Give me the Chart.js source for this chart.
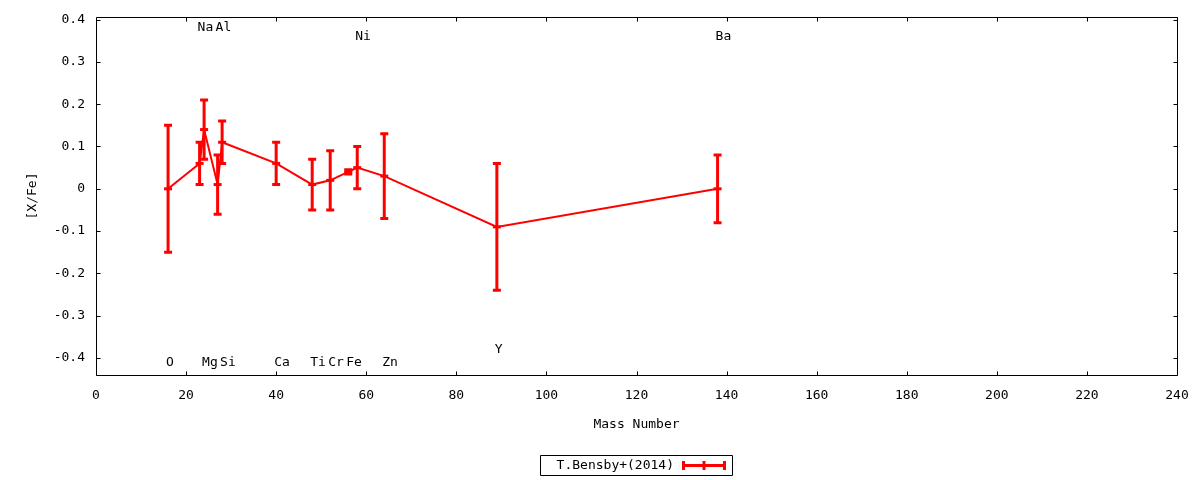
<!DOCTYPE html>
<html>
<head>
<meta charset="utf-8">
<script src="https://cdn.jsdelivr.net/npm/chart.js@4/dist/chart.umd.min.js"></script>
<style>
html,body{margin:0;padding:0;background:#fff;}
canvas{display:block;}
</style>
</head>
<body>
<canvas id="c" width="1200" height="480"></canvas>
<script>
// ---- data ----
const elements = ["O", "Na", "Mg", "Al", "Si", "Ca", "Ti", "Cr", "Fe", "Ni", "Zn", "Y", "Ba"];
const massNumber = [16, 23, 24, 27, 28, 40, 48, 52, 56, 58, 64, 89, 138];
const xFe = [0.00, 0.06, 0.14, 0.01, 0.11, 0.06, 0.01, 0.02, 0.04, 0.05, 0.03, -0.09, 0.00];
const xFeErr = [0.15, 0.05, 0.07, 0.07, 0.05, 0.05, 0.06, 0.07, 0.005, 0.05, 0.10, 0.15, 0.08];
const labelY = [-0.41, 0.38, -0.41, 0.38, -0.41, -0.41, -0.41, -0.41, -0.41, 0.36, -0.41, -0.38, 0.36];
const xTickValues = [0, 20, 40, 60, 80, 100, 120, 140, 160, 180, 200, 220, 240];
const yTickValues = [-0.4, -0.3, -0.2, -0.1, 0, 0.1, 0.2, 0.3, 0.4];
const seriesName = "T.Bensby+(2014)";
const xTitle = "Mass Number";
const yTitle = "[X/Fe]";

const RED = "#ff0000";
const FONT = "'DejaVu Sans Mono', monospace";

Chart.defaults.font.family = FONT;
Chart.defaults.font.size = 13;
Chart.defaults.color = "#000";

const points = massNumber.map((m, i) => ({x: m, y: xFe[i]}));

const gnuplotPlugin = {
  id: "gnuplot",
  afterDatasetsDraw(chart) {
    const ctx = chart.ctx;
    const xs = chart.scales.x, ys = chart.scales.y;
    ctx.save();
    // error bars
    ctx.strokeStyle = RED;
    ctx.lineWidth = 3;
    ctx.lineCap = "butt";
    for (let i = 0; i < massNumber.length; i++) {
      const px = xs.getPixelForValue(massNumber[i]);
      const yt = ys.getPixelForValue(xFe[i] + xFeErr[i]);
      const yb = ys.getPixelForValue(xFe[i] - xFeErr[i]);
      ctx.beginPath();
      ctx.moveTo(px, yt); ctx.lineTo(px, yb);
      ctx.moveTo(px - 4, yt); ctx.lineTo(px + 4, yt);
      ctx.moveTo(px - 4, yb); ctx.lineTo(px + 4, yb);
      ctx.stroke();
    }
    // element labels
    ctx.fillStyle = "#000";
    ctx.font = "13px " + FONT;
    ctx.textAlign = "left";
    ctx.textBaseline = "middle";
    for (let i = 0; i < elements.length; i++) {
      const px = xs.getPixelForValue(massNumber[i]);
      const py = ys.getPixelForValue(labelY[i]);
      ctx.fillText(elements[i], px - 2, py);
    }
    ctx.restore();
  },
  afterDraw(chart) {
    const ctx = chart.ctx;
    const a = chart.chartArea;
    const xs = chart.scales.x, ys = chart.scales.y;
    ctx.save();
    ctx.strokeStyle = "#000";
    ctx.lineWidth = 1;
    const L = Math.round(a.left) + 0.5, R = Math.round(a.right) + 0.5;
    const T = Math.round(a.top) + 0.5, B = Math.round(a.bottom) + 0.5;
    ctx.beginPath();
    ctx.rect(L, T, R - L, B - T);
    // inward ticks
    xTickValues.forEach(v => {
      const px = Math.round(xs.getPixelForValue(v)) + 0.5;
      ctx.moveTo(px, B); ctx.lineTo(px, B - 4);
      ctx.moveTo(px, T); ctx.lineTo(px, T + 4);
    });
    yTickValues.forEach(v => {
      const py = Math.round(ys.getPixelForValue(v)) + 0.5;
      ctx.moveTo(L, py); ctx.lineTo(L + 4, py);
      ctx.moveTo(R, py); ctx.lineTo(R - 4, py);
    });
    ctx.stroke();

    // legend
    const bx = 540.5, by = 455.5, bw = 192, bh = 20;
    ctx.beginPath();
    ctx.rect(bx, by, bw, bh);
    ctx.stroke();
    ctx.fillStyle = "#000";
    ctx.font = "13px " + FONT;
    ctx.textAlign = "right";
    ctx.textBaseline = "middle";
    ctx.fillText(seriesName, 674, by + bh / 2 + 0.5);
    const ly = by + bh / 2;
    ctx.strokeStyle = RED;
    ctx.lineWidth = 3;
    ctx.beginPath();
    ctx.moveTo(682, ly); ctx.lineTo(726, ly);
    ctx.moveTo(683.5, ly - 4.5); ctx.lineTo(683.5, ly + 4.5);
    ctx.moveTo(724.5, ly - 4.5); ctx.lineTo(724.5, ly + 4.5);
    ctx.moveTo(704, ly - 4.5); ctx.lineTo(704, ly + 4.5);
    ctx.stroke();
    ctx.restore();
  }
};

new Chart(document.getElementById("c"), {
  type: "line",
  data: {
    datasets: [{
      label: seriesName,
      data: points,
      borderColor: RED,
      backgroundColor: RED,
      borderWidth: 2,
      pointStyle: "line",
      pointRadius: 4,
      pointBorderWidth: 3,
      pointBorderColor: RED,
      pointHoverRadius: 4,
      tension: 0,
      fill: false
    }]
  },
  options: {
    responsive: false,
    devicePixelRatio: 1,
    animation: false,
    events: [],
    layout: {padding: {top: 17, right: 23, bottom: 48, left: 0}},
    plugins: {legend: {display: false}, tooltip: {enabled: false}},
    scales: {
      x: {
        type: "linear",
        min: 0, max: 240,
        grid: {display: false, drawTicks: false},
        border: {display: false},
        afterBuildTicks(scale) { scale.ticks = xTickValues.map(v => ({value: v})); },
        afterFit(scale) { scale.height = 57; scale.paddingLeft = 0; scale.paddingRight = 0; },
        ticks: {padding: 13, maxRotation: 0, autoSkip: false, callback: v => String(v)},
        title: {display: true, text: xTitle, padding: {top: 0, bottom: 0}}
      },
      y: {
        type: "linear",
        min: -0.44, max: 0.406,
        grid: {display: false, drawTicks: false},
        border: {display: false},
        afterBuildTicks(scale) { scale.ticks = yTickValues.map(v => ({value: v})); },
        afterFit(scale) { scale.width = 96; scale.paddingTop = 0; scale.paddingBottom = 0; },
        ticks: {padding: 11, autoSkip: false, callback: v => { const r = Math.round(v * 10) / 10; return r === 0 ? "0" : r.toFixed(1); }},
        title: {display: true, text: yTitle, padding: {top: 25, bottom: 0}}
      }
    }
  },
  plugins: [gnuplotPlugin]
});
</script>
</body>
</html>
